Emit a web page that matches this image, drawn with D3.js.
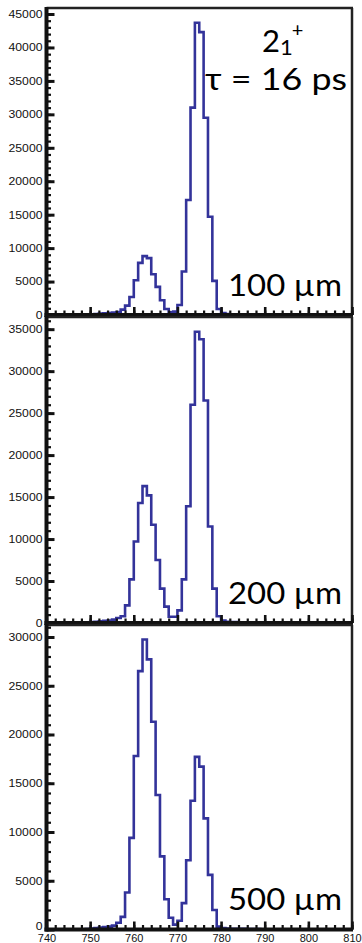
<!DOCTYPE html>
<html>
<head>
<meta charset="utf-8">
<script src="https://cdn.jsdelivr.net/npm/d3@7"></script>
<style>
  body { margin: 0; background: #fff; }
  svg { display: block; }
</style>
</head>
<body>
<div id="chart"></div>
<script>
// bin lower edges (1 keV bins)
const bins = [748,749,750,751,752,753,754,755,756,757,758,759,760,761,762,763,764,765,766,767,768,769,
              770,771,772,773,774,775,776,777,778,779,780,781,782,783,784,785,786,787,788,789,790,791]
// counts for each target thickness
const counts100 = [0,50,100,150,200,250,300,350,450,800,1400,2700,5200,7800,8800,8500,6100,4200,2200,900,400,500,
                   1500,6500,17200,31000,43700,42300,29500,14700,5100,900,300,150,100,100,80,80,60,60,50,40,30,0]
const counts200 = [0,50,100,150,200,250,300,400,600,800,2100,5200,9700,14300,16300,15200,11700,7500,4100,1950,750,750,
                   1500,5200,13900,26000,34700,33800,26500,11500,4100,800,300,150,100,100,80,80,60,60,50,40,30,0]
const counts500 = [0,50,100,150,200,250,300,400,700,1300,3800,9400,17800,26500,29750,27700,21300,13800,7500,3100,1200,500,
                   900,2700,7100,13200,17700,16700,11400,5600,2000,300,150,100,80,80,60,60,50,50,40,30,20,0]
const labels = ["100 µm", "200 µm", "500 µm"]
const xTicks = [740,750,760,770,780,790,800,810]
const yTicks100 = [0,5000,10000,15000,20000,25000,30000,35000,40000,45000]
const yTicks200 = [0,5000,10000,15000,20000,25000,30000,35000]
const yTicks500 = [0,5000,10000,15000,20000,25000,30000]
const yMax = [45900, 36450, 31230]

const W = 362, H = 943
const left = 46.5, right = 352
const panels = [
  {top: 8,   bottom: 315,   counts: counts100, ticks: yTicks100},
  {top: 317, bottom: 623,   counts: counts200, ticks: yTicks200},
  {top: 625, bottom: 929.5, counts: counts500, ticks: yTicks500}
]

let svg = d3.select("#chart").append("svg")
    .attr("width", W)
    .attr("height", H)

let xScale = d3.scaleLinear().domain([740, 810]).range([left, right])

const lineColor = "#33339a"
const tickFont = "'Liberation Sans', Arial, sans-serif"
const bigFont = "Lato, 'Open Sans', sans-serif"

panels.forEach((p, i) => {
  let yScale = d3.scaleLinear().domain([0, yMax[i]]).range([p.bottom, p.top])
  let g = svg.append("g")

  //clip
  g.append("clipPath").attr("id", "clip" + i)
    .append("rect")
    .attr("x", left).attr("y", p.top)
    .attr("width", right - left).attr("height", p.bottom - p.top)

  //histogram as step line
  let pts = bins.map((b, k) => [b, p.counts[k]])
  pts.push([bins[bins.length - 1] + 1, p.counts[p.counts.length - 1]])
  let line = d3.line()
      .x(d => xScale(d[0]))
      .y(d => yScale(d[1]))
      .curve(d3.curveStepAfter)
  g.append("path")
    .attr("d", line(pts))
    .attr("clip-path", "url(#clip" + i + ")")
    .attr("fill", "none")
    .attr("stroke", lineColor)
    .attr("stroke-width", 2.6)

  //frame top/right
  g.append("line").attr("x1", left).attr("x2", right + 1).attr("y1", p.top).attr("y2", p.top)
    .attr("stroke", "#222").attr("stroke-width", 2.5)
  g.append("line").attr("x1", right).attr("x2", right).attr("y1", p.top).attr("y2", p.bottom)
    .attr("stroke", "#222").attr("stroke-width", 2.5)

  //y minor ticks (every 1000)
  let minor = d3.range(0, yMax[i], 1000)
  g.append("g")
    .attr("transform", `translate(${left},0)`)
    .call(d3.axisRight(yScale).tickValues(minor).tickSize(4.5).tickFormat(""))
    .call(a => a.select(".domain").remove())
    .call(a => a.selectAll("line").attr("stroke", "#111").attr("stroke-width", 2.2))
  //y major ticks
  g.append("g")
    .attr("transform", `translate(${left},0)`)
    .call(d3.axisRight(yScale).tickValues(p.ticks).tickSize(8).tickFormat(""))
    .call(a => a.select(".domain").remove())
    .call(a => a.selectAll("line").attr("stroke", "#111").attr("stroke-width", 3))
  //y labels (slightly stretched like the original)
  g.append("g")
    .attr("transform", `translate(${left - 2},0)`)
    .call(d3.axisLeft(yScale).tickValues(p.ticks).tickSize(0).tickPadding(2).tickFormat(d3.format("d")))
    .call(a => a.select(".domain").remove())
    .call(a => a.selectAll("text")
      .attr("font-family", tickFont)
      .attr("font-size", 10.5)
      .attr("fill", "#111")
      .attr("textLength", d => String(d).length * 6.8)
      .attr("lengthAdjust", "spacingAndGlyphs"))
  //lowest zero sits a bit higher on the last panel
  if (i === panels.length - 1) {
    g.selectAll("text").filter(d => d === 0).attr("y", -3.5)
  }

  //x ticks (inside, upward)
  let xMinor = d3.range(740, 811, 2)
  g.append("g")
    .attr("transform", `translate(0,${p.bottom})`)
    .call(d3.axisTop(xScale).tickValues(xMinor).tickSize(4.5).tickFormat(""))
    .call(a => a.select(".domain").remove())
    .call(a => a.selectAll("line").attr("stroke", "#111").attr("stroke-width", 2.2))
  g.append("g")
    .attr("transform", `translate(0,${p.bottom})`)
    .call(d3.axisTop(xScale).tickValues(xTicks).tickSize(8).tickFormat(""))
    .call(a => a.select(".domain").remove())
    .call(a => a.selectAll("line").attr("stroke", "#111").attr("stroke-width", 2.6))

  //axis lines
  g.append("line").attr("x1", left - 2).attr("x2", right + 1).attr("y1", p.bottom).attr("y2", p.bottom)
    .attr("stroke", "#111").attr("stroke-width", 4)
  g.append("line").attr("x1", left).attr("x2", left).attr("y1", p.top - 1).attr("y2", p.bottom + 2)
    .attr("stroke", "#111").attr("stroke-width", 4)

  //thickness label
  g.append("text")
    .attr("x", 228).attr("y", p.bottom - 19.5)
    .attr("font-family", bigFont)
    .attr("font-size", 31)
    .attr("fill", "#000")
    .attr("textLength", 114)
    .attr("lengthAdjust", "spacingAndGlyphs")
    .text(labels[i])

  //x labels only on last panel
  if (i === panels.length - 1) {
    g.append("g")
      .attr("transform", `translate(0,${p.bottom})`)
      .call(d3.axisBottom(xScale).tickValues(xTicks).tickSize(0).tickPadding(5).tickFormat(d3.format("d")))
      .call(a => a.select(".domain").remove())
      .call(a => a.selectAll("text")
        .attr("font-family", tickFont)
        .attr("font-size", 11)
        .attr("fill", "#111"))
  }
})

//state label
let t1 = svg.append("text")
  .attr("x", 262).attr("y", 52)
  .attr("font-family", bigFont)
  .attr("font-size", 31)
  .attr("fill", "#000")
t1.append("tspan").text("2")
t1.append("tspan").attr("font-size", 22).attr("dy", 3).text("1")
t1.append("tspan").attr("font-size", 20).attr("dy", -18).attr("dx", -1).text("+")

svg.append("text")
  .attr("x", 205).attr("y", 90)
  .attr("font-family", bigFont)
  .attr("font-size", 31)
  .attr("fill", "#000")
  .attr("textLength", 142)
  .attr("lengthAdjust", "spacingAndGlyphs")
  .text("τ = 16 ps")
</script>
</body>
</html>
